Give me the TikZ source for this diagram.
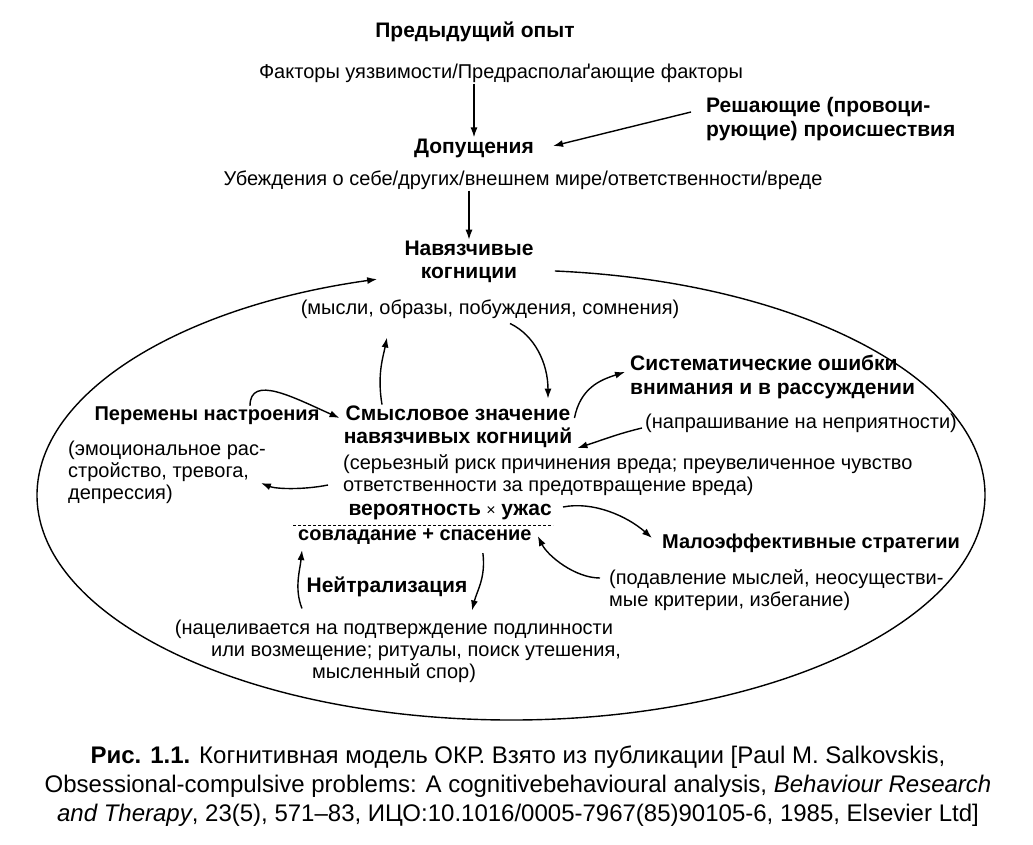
\documentclass[tikz,border=0pt]{standalone}
\usepackage{fontspec}
\setmainfont{Liberation Sans}
\usepackage{tikz}
\usetikzlibrary{arrows.meta, positioning, calc}

\begin{document}
\begin{tikzpicture}[
    x=1pt, y=-1pt,
    every node/.style={font=\fontsize{20}{22}\selectfont, inner sep=1pt},
    head/.style={font=\fontsize{21}{23.5}\selectfont\bfseries},
    note/.style={align=left},
    arrow/.style={-{Latex[length=10pt, width=7pt]}, line width=1.4pt},
    divider/.style={line width=1pt, dash pattern=on 3pt off 2pt}
]

% Page
\path[fill=white] (0,0) rectangle (1033,844);

% Upper chain
\node[head] (prev) at (475,32) {Предыдущий опыт};
\node (factors) at (501,73) {Факторы уязвимости/Предрасполаґающие факторы};
\node[head] (assume) at (474,148) {Допущения};
\node[head, note, anchor=west] (trigger) at (705,119) {Решающие (провоци-\\рующие) происшествия};
\node (beliefs) at (523,180) {Убеждения о себе/других/внешнем мире/ответственности/вреде};
\node[head, align=center] (intrus) at (469,262) {Навязчивые\\когниции};
\node[below=14pt of intrus, xshift=21pt] (thoughts) {(мысли, образы, побуждения, сомнения)};

% Inside the loop
\node[head, align=center] (meaning) at (458,427) {Смысловое значение\\навязчивых когниций};
\node[note, anchor=west] (meandesc) at (342,475) {(серьезный риск причинения вреда; преувеличенное чувство\\ответственности за предотвращение вреда)};
\node[head, font=\fontsize{20}{23}\selectfont\bfseries] (mood) at (207,416) {Перемены настроения};
\node[note, anchor=west] (mooddesc) at (67,472) {(эмоциональное рас-\\стройство, тревога,\\депрессия)};
\node[head, note, anchor=west] (bias) at (629,377) {Систематические ошибки\\внимания и в рассуждении};
\node[anchor=west] (biasdesc) at (644,423) {(напрашивание на неприятности)};
\node[anchor=east] (prob) at (553,512) {\textbf{\fontsize{21}{21}\selectfont вероятность} {\fontsize{16}{16}\selectfont ×} \textbf{\fontsize{21}{21}\selectfont ужас}};
\node[head, font=\fontsize{20}{23}\selectfont\bfseries, anchor=west] (cope) at (297,537) {совладание + спасение};
\node[head, font=\fontsize{20}{23}\selectfont\bfseries, anchor=west] (ineff) at (661,543) {Малоэффективные стратегии};
\node[note, anchor=west] (ineffdesc) at (608,590) {(подавление мыслей, неосуществи-\\мые критерии, избегание)};
\node[head] (neutral) at (387,587) {Нейтрализация};
\node[align=center] (neutdesc) at (394,651) {(нацеливается на подтверждение подлинности\\\hspace*{2.2em}или возмещение; ритуалы, поиск утешения,\\мысленный спор)};

% Caption
\node[align=center, font=\fontsize{24}{29}\selectfont] (caption) at (518,786) {\textbf{Рис. 1.1.} Когнитивная модель ОКР. Взято из публикации [Paul M. Salkovskis,\\Obsessional-compulsive problems: A cognitivebehavioural analysis, \textit{Behaviour Research}\\\textit{and Therapy}, 23(5), 571–83, ИЦО:10.1016/0005-7967(85)90105-6, 1985, Elsevier Ltd]};

% Fraction line
\coordinate (divL) at (293,525);
\draw[divider] (divL) -- (divL -| prob.east);

% Arrows of the upper chain
\draw[arrow] (factors.south -| assume) -- (assume.north);
\draw[arrow] ([shift={(-14,-7)}]trigger.west) -- ([shift={(18,-2)}]assume.east);
\draw[arrow] (beliefs.south -| intrus) -- (intrus.north);

% The loop
\coordinate (oval) at (511,495);
\draw[arrow] ([shift={(-84.7:474 and 225)}]oval) arc[start angle=-84.7, end angle=253.6, x radius=474, y radius=225];

% Arrows inside the loop
\draw[arrow] ([shift={(20,4)}]thoughts.south) .. controls +(25,12) and +(0,-35) .. ([shift={(90,-6)}]meaning.north);
\draw[arrow] ([shift={(-76,0)}]meaning.north) .. controls +(-5,-30) and +(-4,20) .. ([shift={(-103,18)}]thoughts.south);
\draw[arrow] ([shift={(43,0)}]mood.north) .. controls +(0,-32) and +(-45,-20) .. ([shift={(-3,-9)}]meaning.west);
\draw[arrow] ([shift={(-14,10)}]meandesc.west) .. controls +(-25,5) and +(15,6) .. ([shift={(-6,11)}]mooddesc.east);
\draw[arrow] ([shift={(1,-9)}]meaning.east) .. controls +(6,-30) and +(-25,8) .. ([shift={(-4,-5)}]bias.west);
\draw[arrow] ([shift={(-2,5)}]biasdesc.west) .. controls +(-25,6) and +(25,-8) .. ([shift={(4,21)}]meaning.east);
\draw[arrow] ([shift={(10,-5)}]prob.east) .. controls +(30,-6) and +(-25,-22) .. ([shift={(-9,-5)}]ineff.west);
\draw[arrow] ([shift={(-8,-12)}]ineffdesc.west) .. controls +(-25,0) and +(10,20) .. ([shift={(5,-1)}]cope.east);
\draw[arrow] ([shift={(-92,-10)}]neutdesc.north) .. controls +(-8,-20) and +(-2,20) .. ([shift={(5,4)}]cope.south west);
\draw[arrow] ([shift={(68,7)}]cope.south) .. controls +(3,25) and +(5,-20) .. ([shift={(78,-8)}]neutdesc.north);

\end{tikzpicture}
\end{document}
